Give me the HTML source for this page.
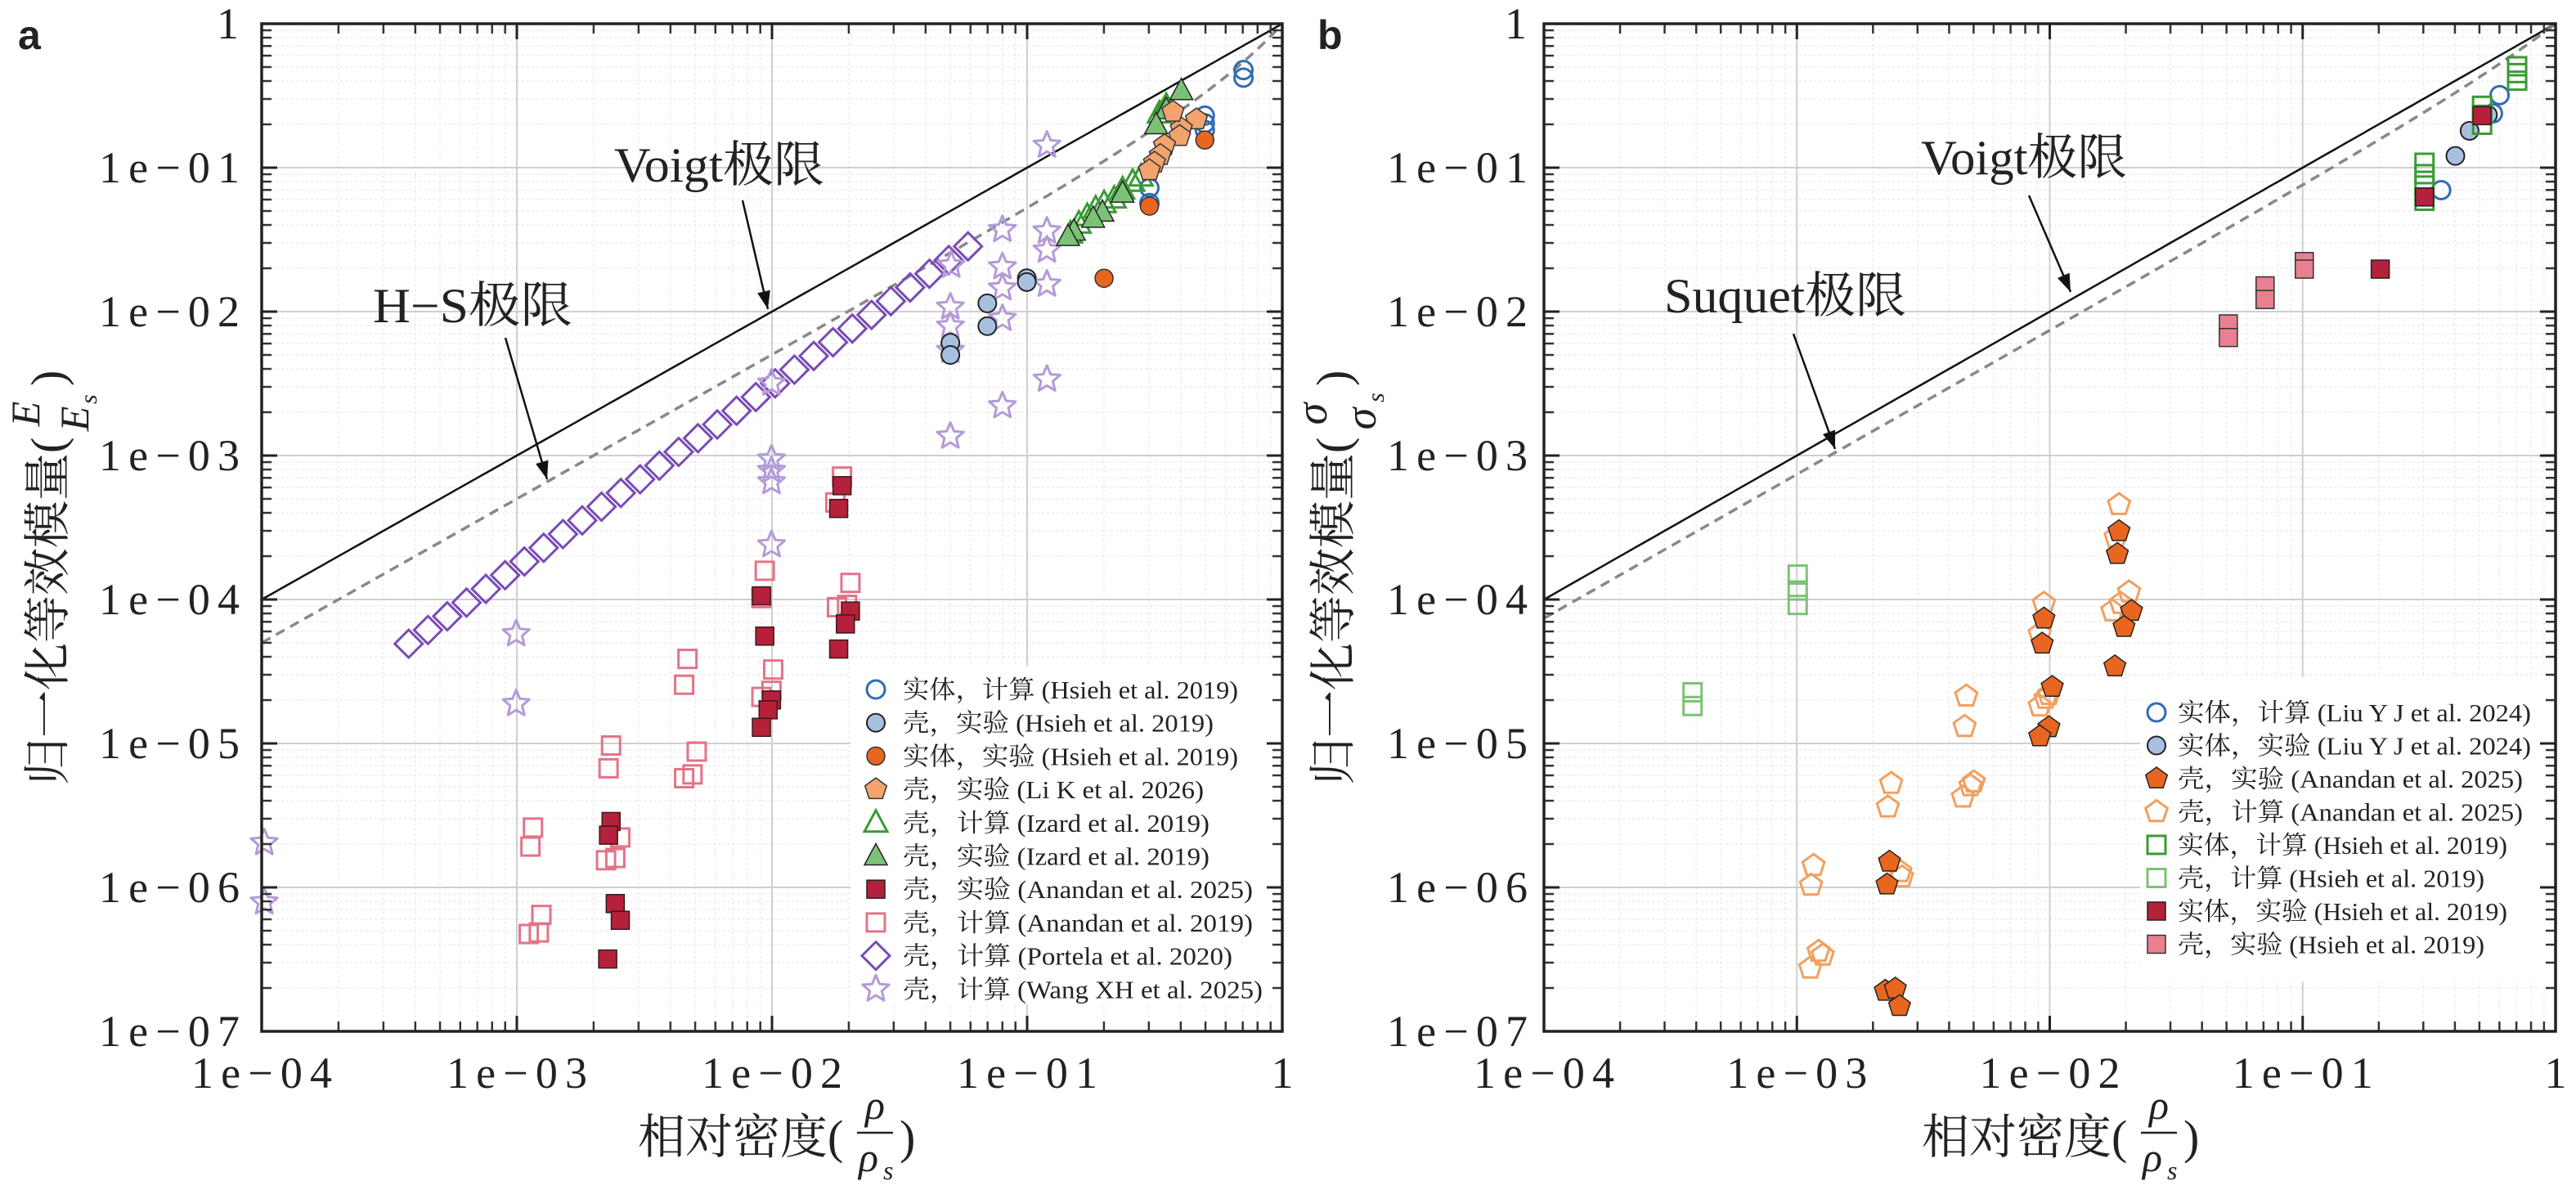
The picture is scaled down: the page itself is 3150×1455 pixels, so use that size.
<!DOCTYPE html>
<html><head><meta charset="utf-8">
<style>
html,body{margin:0;padding:0;background:#fff;}
svg{display:block;}
text{font-family:"Liberation Serif","Noto Serif CJK SC","Noto Sans CJK SC",serif;fill:#222;}
</style></head>
<body>
<svg id="s" xmlns="http://www.w3.org/2000/svg" width="3150" height="1455" viewBox="0 0 3150 1455">
<rect width="3150" height="1455" fill="#fff"/>
</svg>
<script>
const S=document.getElementById('s');
const NS='http://www.w3.org/2000/svg';
function el(t,a,txt,parent){const e=document.createElementNS(NS,t);for(const k in a)e.setAttribute(k,a[k]);if(txt!==undefined)e.textContent=txt;(parent||S).appendChild(e);return e;}
const TOP=29,BOT=1261,DEC=176;
const panels=[{L:320,R:1568},{L:1888,R:3125}];
function gx(p,lx){return p.L+(lx+4)*(p.R-p.L)/4;}
function gy(ly){return TOP-ly*DEC;}
panels.forEach(p=>{
  for(let d=-4;d<0;d++)for(let m=2;m<10;m++){const x=gx(p,d+Math.log10(m));el('line',{x1:x,y1:TOP,x2:x,y2:BOT,stroke:'#ececec','stroke-width':1.5,'stroke-dasharray':'3 3'});}
  for(let d=-7;d<0;d++)for(let m=2;m<10;m++){const y=gy(d+Math.log10(m));el('line',{x1:p.L,y1:y,x2:p.R,y2:y,stroke:'#ececec','stroke-width':1.5,'stroke-dasharray':'3 3'});}
  for(let d=-3;d<0;d++){const x=gx(p,d);el('line',{x1:x,y1:TOP,x2:x,y2:BOT,stroke:'#cfcfcf','stroke-width':2});}
  for(let d=-6;d<0;d++){const y=gy(d);el('line',{x1:p.L,y1:y,x2:p.R,y2:y,stroke:'#cfcfcf','stroke-width':2});}
});
function curve(p,f,attrs){let pts=[];for(let i=0;i<=200;i++){const lx=-4+i*4/200;const r=Math.pow(10,lx);pts.push(gx(p,lx).toFixed(1)+','+gy(Math.log10(f(r))).toFixed(1));}el('polyline',Object.assign({points:pts.join(' '),fill:'none'},attrs));}
panels.forEach((p,i)=>{
  curve(p,r=>r,{stroke:'#111','stroke-width':2.5});
  if(i==0)curve(p,r=>r/(2-r),{stroke:'#888','stroke-width':3.5,'stroke-dasharray':'12 8'});
  else curve(p,r=>0.74*r/(1-0.26*r),{stroke:'#888','stroke-width':3.5,'stroke-dasharray':'12 8'});
});
function pent(x,y,r){let s=[];for(let k=0;k<5;k++){const a=-Math.PI/2+k*2*Math.PI/5;s.push((x+r*Math.cos(a)).toFixed(1)+','+(y+r*Math.sin(a)).toFixed(1));}return s.join(' ');}
function star(x,y,r){let s=[];for(let k=0;k<10;k++){const a=-Math.PI/2+k*Math.PI/5;const rr=k%2?r*0.45:r;s.push((x+rr*Math.cos(a)).toFixed(1)+','+(y+rr*Math.sin(a)).toFixed(1));}return s.join(' ');}
function mk(type,x,y,fill,stroke,sw){
  sw=sw||3;
  if(type=='o')el('circle',{cx:x,cy:y,r:11,fill:fill,stroke:stroke,'stroke-width':sw});
  else if(type=='s')el('rect',{x:x-11,y:y-11,width:22,height:22,fill:fill,stroke:stroke,'stroke-width':sw});
  else if(type=='p')el('polygon',{points:pent(x,y,14),fill:fill,stroke:stroke,'stroke-width':sw});
  else if(type=='^')el('polygon',{points:`${x},${y-15} ${x+14},${y+11} ${x-14},${y+11}`,fill:fill,stroke:stroke,'stroke-width':sw});
  else if(type=='d')el('polygon',{points:`${x},${y-17} ${x+17},${y} ${x},${y+17} ${x-17},${y}`,fill:fill,stroke:stroke,'stroke-width':sw});
  else if(type=='*')el('polygon',{points:star(x,y,17),fill:fill,stroke:stroke,'stroke-width':sw,'stroke-linejoin':'round'});
}
const A=(zx,zy)=>[320+(zx-315)*1.027,29+(zy-32)*0.929];
const B=(zx,zy)=>[1888+(zx-331)*1.0206,29+(zy-32)*0.929];
function series(T,type,fill,stroke,pts,sw){pts.forEach(q=>{const [x,y]=T(q[0],q[1]);mk(type,x,y,fill,stroke,sw);});}
series(A,'s','none','#e27487',[[1006,628],[998,662],[914,752],[910,788],[1016,768],[1000,800],[1012,797],[822,868],[818,902],[924,882],[922,910],[910,918],[731,982],[728,1012],[833,990],[828,1020],[818,1025],[638,1090],[635,1115],[742,1103],[736,1130],[725,1133],[648,1205],[645,1228],[633,1230]]);
series(A,'s','#b5213a','#3a1a1a',[[1006,640],[1002,670],[910,785],[914,838],[1002,855],[1016,805],[1010,822],[922,922],[918,935],[910,958],[731,1082],[728,1100],[736,1190],[742,1212],[727,1263]],1.5);
(function(){for(let i=0;i<30;i++){const zx=490+i*(1156-490)/29,zy=848+i*(325-848)/29;const [x,y]=A(zx,zy);mk('d',x,y,'none','#7a4bb5',3);}})();
series(A,'*','none','#b49ad8',[[1250,192],[1197,303],[1250,305],[1250,330],[1136,350],[1197,352],[1197,380],[1250,375],[1135,405],[1135,430],[1197,420],[1135,462],[1250,500],[1197,535],[1135,575],[922,505],[922,605],[922,620],[922,635],[922,718],[618,835],[618,927],[318,1110],[318,1188]]);
series(A,'o','#a8bfe0','#222',[[1226,367],[1226,372],[1179,400],[1179,430],[1135,452],[1135,468]],2);
series(A,'o','none','#2f6db3',[[1484,93],[1484,103],[1438,153],[1438,163],[1438,172],[1372,248],[1372,268]]);
series(A,'o','#e8661f','#333',[[1372,272],[1438,185],[1318,367]],1.5);
series(A,'^','none','#3b9a35',[[1362,233],[1352,240],[1340,250],[1330,262],[1318,268],[1308,275],[1298,285],[1288,295],[1278,308],[1384,150],[1392,140]]);
series(A,'^','#7cc276','#222',[[1410,120],[1392,145],[1380,165],[1340,255],[1316,280],[1305,288],[1282,305],[1275,312]],1.5);
series(A,'p','#f2a36e','#333',[[1428,158],[1410,170],[1408,180],[1390,192],[1385,205],[1378,215],[1372,225],[1400,148]],1.5);
series(B,'s','none','#7cc276',[[635,757],[635,778],[635,797],[509,912],[509,930]]);
series(B,'p','none','#f0a060',[[1020,665],[1016,708],[1032,780],[1022,795],[1012,805],[930,795],[925,835],[936,915],[932,920],[925,930],[837,917],[835,957],[846,1030],[842,1035],[833,1050],[747,1032],[743,1063],[654,1140],[651,1166],[660,1253],[665,1258],[650,1275],[758,1148],[760,1155]]);
series(B,'p','#e8661f','#222',[[1020,700],[1018,730],[1035,805],[1026,826],[1015,878],[930,815],[928,848],[940,905],[936,958],[925,970],[745,1135],[742,1165],[740,1305],[752,1302],[757,1325]],1.5);
series(B,'s','#e8808f','#333',[[1242,345],[1242,355],[1195,377],[1195,395],[1151,427],[1151,445]],1.5);
series(B,'o','#a8bfe0','#222',[[1423,206],[1440,173],[1462,152]],2);
series(B,'o','none','#2f6db3',[[1476,126],[1406,251],[1468,150]]);
series(B,'s','none','#3b9a35',[[1497,88],[1497,97],[1497,107],[1455,140],[1455,152],[1455,165],[1386,215],[1386,230],[1386,245],[1386,265]]);
series(B,'s','#b5213a','#222',[[1455,153],[1386,260],[1333,355]],1.5);
function legend(x0,y0,x1,y1,mx,tx,ty0,dy,items){
  el('rect',{x:x0,y:y0,width:x1-x0,height:y1-y0,fill:'#fff'});
  items.forEach((it,i)=>{const y=ty0+i*dy;mk(it[0],mx,y,it[1],it[2],it[3]||3);
    const t=el('text',{x:tx,y:y+11,'font-size':31},it[4]);
    t.setAttribute('textLength',it[5]);t.setAttribute('lengthAdjust','spacingAndGlyphs');});
}
legend(1040,815,1556,1228,1071,1104,843,40.7,[
 ['o','none','#2f6db3',3,'实体，计算 (Hsieh et al. 2019)',410],
 ['o','#a8bfe0','#222',2,'壳，实验 (Hsieh et al. 2019)',380],
 ['o','#e8661f','#333',1.5,'实体，实验 (Hsieh et al. 2019)',410],
 ['p','#f2a36e','#333',1.5,'壳，实验 (Li K et al. 2026)',368],
 ['^','none','#3b9a35',3,'壳，计算 (Izard et al. 2019)',375],
 ['^','#7cc276','#222',1.5,'壳，实验 (Izard et al. 2019)',375],
 ['s','#b5213a','#222',1.5,'壳，实验 (Anandan et al. 2025)',428],
 ['s','none','#e27487',3,'壳，计算 (Anandan et al. 2019)',428],
 ['d','none','#7a4bb5',3,'壳，计算 (Portela et al. 2020)',403],
 ['*','none','#b49ad8',3,'壳，计算 (Wang XH et al. 2025)',440]]);
legend(2617,828,3112,1200,2637,2663,871,40.5,[
 ['o','none','#2f6db3',3,'实体，计算 (Liu Y J et al. 2024)',432],
 ['o','#a8bfe0','#222',2,'实体，实验 (Liu Y J et al. 2024)',432],
 ['p','#e8661f','#222',1.5,'壳，实验 (Anandan et al. 2025)',422],
 ['p','none','#f0a060',3,'壳，计算 (Anandan et al. 2025)',422],
 ['s','none','#3b9a35',3,'实体，计算 (Hsieh et al. 2019)',403],
 ['s','none','#7cc276',3,'壳，计算 (Hsieh et al. 2019)',375],
 ['s','#b5213a','#222',1.5,'实体，实验 (Hsieh et al. 2019)',403],
 ['s','#e8808f','#333',1.5,'壳，实验 (Hsieh et al. 2019)',375]]);
const ylabs=['1','1e−01','1e−02','1e−03','1e−04','1e−05','1e−06','1e−07'];
const xlabs=['1e−04','1e−03','1e−02','1e−01','1'];
panels.forEach((p,pi)=>{
  for(let d=-4;d<0;d++)for(let m=2;m<10;m++){const x=gx(p,d+Math.log10(m));el('line',{x1:x,y1:BOT,x2:x,y2:BOT-12,stroke:'#333','stroke-width':2.5});el('line',{x1:x,y1:TOP,x2:x,y2:TOP+12,stroke:'#333','stroke-width':2.5});}
  for(let d=-7;d<0;d++)for(let m=2;m<10;m++){const y=gy(d+Math.log10(m));el('line',{x1:p.L,y1:y,x2:p.L+12,y2:y,stroke:'#333','stroke-width':2.5});el('line',{x1:p.R,y1:y,x2:p.R-12,y2:y,stroke:'#333','stroke-width':2.5});}
  for(let d=-4;d<=0;d++){const x=gx(p,d);el('line',{x1:x,y1:BOT,x2:x,y2:BOT-19,stroke:'#222','stroke-width':3});el('line',{x1:x,y1:TOP,x2:x,y2:TOP+19,stroke:'#222','stroke-width':3});
    const t=el('text',{x:x,y:1330,'font-size':54,'text-anchor':'middle'},xlabs[d+4]);if(xlabs[d+4].length>1){t.setAttribute('textLength',172);t.setAttribute('lengthAdjust','spacing');}}
  for(let d=0;d>=-7;d--){const y=gy(d);el('line',{x1:p.L,y1:y,x2:p.L+19,y2:y,stroke:'#222','stroke-width':3});el('line',{x1:p.R,y1:y,x2:p.R-19,y2:y,stroke:'#222','stroke-width':3});
    const rx=pi==0?293:1868;const lab=ylabs[-d];
    const t=el('text',{x:lab.length>1?rx-172:rx-28,y:y+18,'font-size':54},lab);if(lab.length>1){t.setAttribute('textLength',172);t.setAttribute('lengthAdjust','spacing');}}
  el('rect',{x:p.L,y:TOP,width:p.R-p.L,height:BOT-TOP,fill:'none',stroke:'#222','stroke-width':3.5});
  const cx=pi==0?780:2350;
  el('text',{x:cx,y:1410,'font-size':58},'相对密度(');
  el('text',{x:cx+290,y:1368,'font-size':50,'font-style':'italic','text-anchor':'middle'},'ρ');
  el('line',{x1:cx+268,y1:1385,x2:cx+312,y2:1385,stroke:'#222','stroke-width':2.5});
  el('text',{x:cx+282,y:1432,'font-size':50,'font-style':'italic','text-anchor':'middle'},'ρ');
  el('text',{x:cx+300,y:1442,'font-size':32,'font-style':'italic'},'s');
  el('text',{x:cx+320,y:1410,'font-size':58},')');
  const yx=pi==0?78:1650;
  const g=el('g',{transform:`translate(${yx},690) rotate(-90)`});
  el('text',{x:-270,y:0,'font-size':58},'归一化等效模量(',g);
  if(pi==0){
    el('text',{x:184,y:-30,'font-size':50,'font-style':'italic','text-anchor':'middle'},'E',g);
    el('text',{x:178,y:30,'font-size':50,'font-style':'italic','text-anchor':'middle'},'E',g);
    el('text',{x:196,y:40,'font-size':30,'font-style':'italic'},'s',g);
  } else {
    el('text',{x:184,y:-28,'font-size':54,'font-style':'italic','text-anchor':'middle'},'σ',g);
    el('text',{x:178,y:32,'font-size':54,'font-style':'italic','text-anchor':'middle'},'σ',g);
    el('text',{x:198,y:42,'font-size':30,'font-style':'italic'},'s',g);
  }
  el('line',{x1:160,y1:-18,x2:210,y2:-18,stroke:'#222','stroke-width':2.5},g);
  el('text',{x:218,y:0,'font-size':58},')',g);
});
function ann(txt,x,y,w,ax1,ay1,ax2,ay2){
  const t=el('text',{x:x,y:y,'font-size':60},txt);t.setAttribute('textLength',w);t.setAttribute('lengthAdjust','spacingAndGlyphs');
  el('line',{x1:ax1,y1:ay1,x2:ax2,y2:ay2,stroke:'#111','stroke-width':2.5});
  const ang=Math.atan2(ay2-ay1,ax2-ax1);const L=22,Wd=8;
  const bx=ax2-L*Math.cos(ang),by=ay2-L*Math.sin(ang);
  el('polygon',{points:`${ax2},${ay2} ${bx+Wd*Math.sin(ang)},${by-Wd*Math.cos(ang)} ${bx-Wd*Math.sin(ang)},${by+Wd*Math.cos(ang)}`,fill:'#111'});
}
ann('Voigt极限',751,222,257,908,245,939,378);
ann('H−S极限',456,394,244,618,413,669,586);
ann('Voigt极限',2349,213,252,2481,239,2532,357);
ann('Suquet极限',2035,382,296,2193,408,2244,549);
el('text',{x:22,y:60,'font-size':50,'font-weight':'bold',style:'font-family:"Liberation Sans",sans-serif'},'a');
el('text',{x:1611,y:60,'font-size':50,'font-weight':'bold',style:'font-family:"Liberation Sans",sans-serif'},'b');
</script>
</body></html>
